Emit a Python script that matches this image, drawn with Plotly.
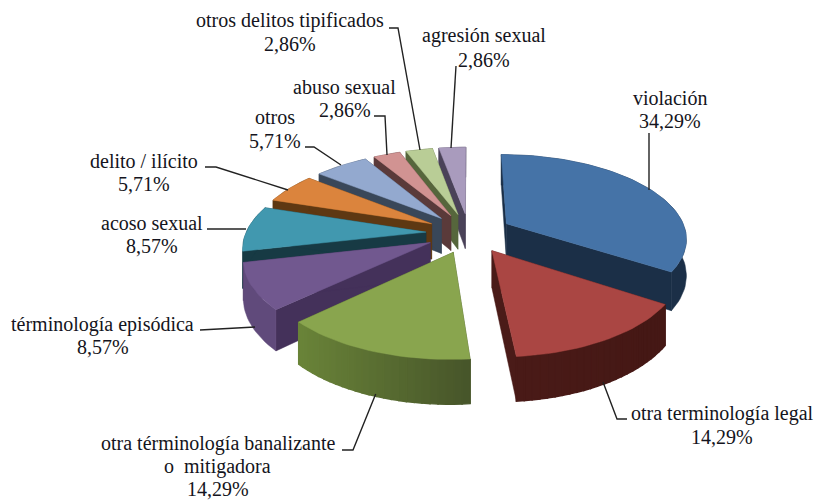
import numpy as np
import plotly.graph_objects as go

categories = ["violación", "otra terminología legal", "otra términología banalizante|o  mitigadora",
              "términología episódica", "acoso sexual", "delito / ilícito", "otros",
              "abuso sexual", "otros delitos tipificados", "agresión sexual"]
values = [34.29, 14.29, 14.29, 8.57, 8.57, 5.71, 5.71, 2.86, 2.86, 2.86]
top_colors = ["#4573A7", "#AA4643", "#89A54E", "#71588F", "#4198AF", "#DB843D", "#93A9CF", "#D19392", "#B9CD96", "#A99BBD"]
face_colors = ["#1B2F47", "#4A1B18", "#47552A", "#44315A", "#173A44", "#5E3812", "#394759", "#5A3A3A", "#56663C", "#4A4258"]
rim_left = ["#1B2F47", "#4A1B18", "#6A8439", "#604A7B", "#173A44", "#5E3812", "#394759", "#5A3A3A", "#56663C", "#4A4258"]
rim_right = ["#1B2F47", "#451815", "#47552A", "#604A7B", "#173A44", "#5E3812", "#394759", "#5A3A3A", "#56663C", "#4A4258"]
draw_order = [9, 8, 7, 6, 5, 4, 3, 0, 1, 2]

# label placement: centre x and the y of each text line (page pixels)
label_pos = [(670, [98, 121]), (722, [413, 437]), (217.5, [443, 466, 489]), (102.5, [324, 347]),
             (152, [223, 246]), (144, [161, 184]), (275, [117, 141]), (344.5, [87, 110]),
             (290, [20, 44]), (484, [35, 60])]
leaders = [[(649, 133), (649, 190)], [(603, 382), (617, 419), (627, 419)],
           [(375.7, 394), (353, 450), (342, 450)], [(200, 330), (255, 327)], [(207, 229), (246, 229)],
           [(205, 167), (216, 167), (288, 190)], [(305, 147), (314, 147), (341, 165)],
           [(374, 116), (385, 116), (387, 155)], [(389, 28), (398, 28), (420, 150)], [(456, 66), (451, 148)]]

# projection of the tilted, exploded disc
CX, CY, SX, SY, PERSP, EXPLODE, DEPTH = 469, 233, 180, 83, 0.16, 0.24, 36


def project(X, Y, z=0.0):
    d = 1 + PERSP * Y  # Y>0 is away from viewer
    return CX + SX * X / d, CY - SY * Y / d + z * DEPTH / d


def hex2rgb(c):
    return np.array([int(c[i:i + 2], 16) for i in (1, 3, 5)], float)


def blend(a, b, t):
    r = hex2rgb(a) * (1 - t) + hex2rgb(b) * t
    return "rgb(%d,%d,%d)" % tuple(r)


fig = go.Figure()


def poly(xs, ys, color, lw=0.5):
    fig.add_trace(go.Scatter(x=list(xs), y=list(ys), mode="lines", fill="toself", fillcolor=color,
                             line=dict(color=color, width=lw), hoverinfo="skip", showlegend=False))


edges = np.concatenate([[0], np.cumsum(values)]) / np.sum(values) * 2 * np.pi
for i in draw_order:
    a0, a1 = edges[i], edges[i + 1]
    mid = (a0 + a1) / 2
    ox, oy = EXPLODE * np.sin(mid), EXPLODE * np.cos(mid)
    th = np.linspace(a0, a1, max(6, int((a1 - a0) * 30)))
    RX, RY = ox + np.sin(th), oy + np.cos(th)
    tx, ty = project(RX, RY)
    bx, by = project(RX, RY, 1)
    apx, apy = project(ox, oy)
    abx, aby = project(ox, oy, 1)
    # radial faces
    poly([apx, tx[0], bx[0], abx, apx], [apy, ty[0], by[0], aby, apy], face_colors[i])
    poly([apx, tx[-1], bx[-1], abx, apx], [apy, ty[-1], by[-1], aby, apy], face_colors[i])
    # outer wall, shaded left to right when the two shades differ
    if rim_left[i] == rim_right[i]:
        poly([*tx, *bx[::-1], tx[0]], [*ty, *by[::-1], ty[0]], rim_left[i])
    else:
        xmin, xmax = min(tx), max(tx)
        for k in range(len(th) - 1):
            t = ((tx[k] + tx[k + 1]) / 2 - xmin) / max(xmax - xmin, 1)
            poly([tx[k], tx[k + 1], bx[k + 1], bx[k], tx[k]], [ty[k], ty[k + 1], by[k + 1], by[k], ty[k]],
                 blend(rim_left[i], rim_right[i], t), lw=1.5)
    # top
    poly([apx, *tx, apx], [apy, *ty, apy], top_colors[i])

for seg in leaders:
    fig.add_trace(go.Scatter(x=[p[0] for p in seg], y=[p[1] for p in seg], mode="lines",
                             line=dict(color="#222222", width=1.4), hoverinfo="skip", showlegend=False))

annotations = []
for name, v, (lx, ys) in zip(categories, values, label_pos):
    lines = name.split("|") + [f"{v:.2f}%".replace(".", ",")]
    for text, y in zip(lines, ys):
        annotations.append(dict(x=lx, y=y, text=text, showarrow=False, xanchor="center", yanchor="middle",
                                font=dict(family="Liberation Serif", size=20, color="#141420")))

fig.update_layout(width=816, height=501, margin=dict(l=0, r=0, t=0, b=0), paper_bgcolor="white",
                  plot_bgcolor="white", showlegend=False, annotations=annotations,
                  xaxis=dict(range=[0, 816], visible=False, fixedrange=True),
                  yaxis=dict(range=[501, 0], visible=False, fixedrange=True))
fig.write_html("out.html", config={"displayModeBar": False},
               post_script="document.body.style.margin='0';document.documentElement.style.overflow='hidden';")
